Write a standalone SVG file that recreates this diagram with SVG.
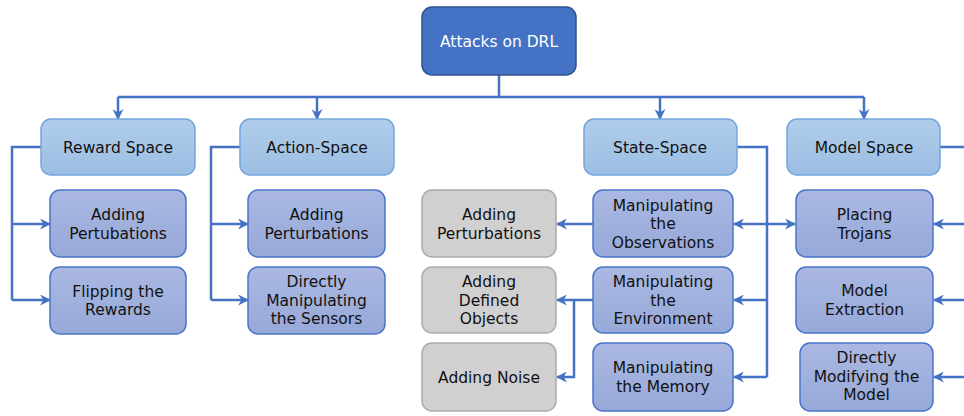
<svg xmlns="http://www.w3.org/2000/svg" width="964" height="416" viewBox="0 0 964 416">
  <defs>
    <linearGradient id="gHead" x1="0" y1="0" x2="0" y2="1">
      <stop offset="0" stop-color="#b0cdeb"/>
      <stop offset="1" stop-color="#9cbee3"/>
    </linearGradient>
    <linearGradient id="gLeaf" x1="0" y1="0" x2="0" y2="1">
      <stop offset="0" stop-color="#aab8e2"/>
      <stop offset="1" stop-color="#97a9d9"/>
    </linearGradient>
    <marker id="arr" viewBox="0 0 10 10" refX="9" refY="5" markerWidth="4.4" markerHeight="4.4" orient="auto-start-reverse" markerUnits="strokeWidth">
      <path d="M0,0 L10,5 L0,10 L3,5 z" fill="#4472c4"/>
    </marker>
  </defs>
  <style>
    text { font-family: "DejaVu Sans", Verdana, sans-serif; font-size: 15.5px; fill: #111; text-anchor: middle; }
    .root rect { fill: #4472c4; stroke: #2f528f; stroke-width: 1.5; }
    .root text { fill: #ffffff; }
    .head rect { fill: url(#gHead); stroke: #74a6dc; stroke-width: 1.5; }
    .leaf rect { fill: url(#gLeaf); stroke: #4a74c9; stroke-width: 1.5; }
    .gray rect { fill: #d0d0d0; stroke: #ababab; stroke-width: 1.5; }
    .wire { fill: none; stroke: #4472c4; stroke-width: 2.5; }
    .arrow { marker-end: url(#arr); }
    .both { marker-start: url(#arr); marker-end: url(#arr); }
  </style>

  <!-- connectors -->
  <g id="connectors">
    <path class="wire" d="M499,75 V97 M118,97 H864"/>
    <path class="wire arrow" d="M118,97 V119"/>
    <path class="wire arrow" d="M317,97 V119"/>
    <path class="wire arrow" d="M660,97 V119"/>
    <path class="wire arrow" d="M864,97 V119"/>

    <!-- reward space -->
    <path class="wire" d="M41,147 H12 V300"/>
    <path class="wire arrow" d="M12,224 H50"/>
    <path class="wire arrow" d="M12,300 H50"/>

    <!-- action space -->
    <path class="wire" d="M240,147 H211 V300"/>
    <path class="wire arrow" d="M211,224 H248"/>
    <path class="wire arrow" d="M211,300 H248"/>

    <!-- state space -->
    <path class="wire" d="M737,147 H767 V377"/>
    <path class="wire both" d="M734,224 H795"/>
    <path class="wire arrow" d="M767,300 H734"/>
    <path class="wire arrow" d="M767,377 H734"/>
    <path class="wire arrow" d="M593,224 H557"/>
    <path class="wire arrow" d="M593,300 H557"/>
    <path class="wire arrow" d="M574,300 V377 H557"/>

    <!-- model space -->
    <path class="wire" d="M940,147 H964"/>
    <path class="wire arrow" d="M964,224 H934"/>
    <path class="wire arrow" d="M964,300 H934"/>
    <path class="wire arrow" d="M964,377 H934"/>
  </g>

  <!-- root -->
  <g id="attacks-on-drl" class="root">
    <rect x="422" y="7" width="154" height="68" rx="10"/>
    <text x="499" y="47">Attacks on DRL</text>
  </g>

  <!-- category headers -->
  <g id="reward-space" class="head">
    <rect x="41" y="119" width="154" height="56" rx="10"/>
    <text x="118" y="152.5">Reward Space</text>
  </g>
  <g id="action-space" class="head">
    <rect x="240" y="119" width="154" height="56" rx="10"/>
    <text x="317" y="152.5">Action-Space</text>
  </g>
  <g id="state-space" class="head">
    <rect x="584" y="119" width="153" height="56" rx="10"/>
    <text x="660" y="152.5">State-Space</text>
  </g>
  <g id="model-space" class="head">
    <rect x="787" y="119" width="153" height="56" rx="10"/>
    <text x="864" y="152.5">Model Space</text>
  </g>

  <!-- reward space leaves -->
  <g id="reward-pertubations" class="leaf">
    <rect x="50" y="190" width="136" height="67" rx="10"/>
    <text x="118" y="220">Adding</text>
    <text x="118" y="238.5">Pertubations</text>
  </g>
  <g id="flipping-rewards" class="leaf">
    <rect x="50" y="267" width="136" height="67" rx="10"/>
    <text x="118" y="296.5">Flipping the</text>
    <text x="118" y="315">Rewards</text>
  </g>

  <!-- action space leaves -->
  <g id="action-perturbations" class="leaf">
    <rect x="248" y="190" width="137" height="67" rx="10"/>
    <text x="316.5" y="220">Adding</text>
    <text x="316.5" y="238.5">Perturbations</text>
  </g>
  <g id="manipulating-sensors" class="leaf">
    <rect x="248" y="267" width="137" height="67" rx="10"/>
    <text x="316.5" y="287">Directly</text>
    <text x="316.5" y="305.5">Manipulating</text>
    <text x="316.5" y="324">the Sensors</text>
  </g>

  <!-- state space leaves -->
  <g id="manipulating-observations" class="leaf">
    <rect x="593" y="190" width="140" height="67" rx="10"/>
    <text x="663" y="210.5">Manipulating</text>
    <text x="663" y="229">the</text>
    <text x="663" y="247.5">Observations</text>
  </g>
  <g id="manipulating-environment" class="leaf">
    <rect x="593" y="267" width="140" height="66" rx="10"/>
    <text x="663" y="287">Manipulating</text>
    <text x="663" y="305.5">the</text>
    <text x="663" y="324">Environment</text>
  </g>
  <g id="manipulating-memory" class="leaf">
    <rect x="593" y="343" width="140" height="68" rx="10"/>
    <text x="663" y="373">Manipulating</text>
    <text x="663" y="391.5">the Memory</text>
  </g>

  <!-- observation / environment attacks -->
  <g id="obs-perturbations" class="gray">
    <rect x="422" y="190" width="134" height="67" rx="10"/>
    <text x="489" y="220">Adding</text>
    <text x="489" y="238.5">Perturbations</text>
  </g>
  <g id="defined-objects" class="gray">
    <rect x="422" y="267" width="134" height="66" rx="10"/>
    <text x="489" y="287">Adding</text>
    <text x="489" y="305.5">Defined</text>
    <text x="489" y="324">Objects</text>
  </g>
  <g id="adding-noise" class="gray">
    <rect x="422" y="343" width="134" height="68" rx="10"/>
    <text x="489" y="383">Adding Noise</text>
  </g>

  <!-- model space leaves -->
  <g id="placing-trojans" class="leaf">
    <rect x="796" y="190" width="137" height="67" rx="10"/>
    <text x="864.5" y="220">Placing</text>
    <text x="864.5" y="238.5">Trojans</text>
  </g>
  <g id="model-extraction" class="leaf">
    <rect x="796" y="267" width="137" height="66" rx="10"/>
    <text x="864.5" y="296">Model</text>
    <text x="864.5" y="314.5">Extraction</text>
  </g>
  <g id="modifying-model" class="leaf">
    <rect x="800" y="343" width="133" height="68" rx="10"/>
    <text x="866.5" y="363">Directly</text>
    <text x="866.5" y="381.5">Modifying the</text>
    <text x="866.5" y="400">Model</text>
  </g>
</svg>
